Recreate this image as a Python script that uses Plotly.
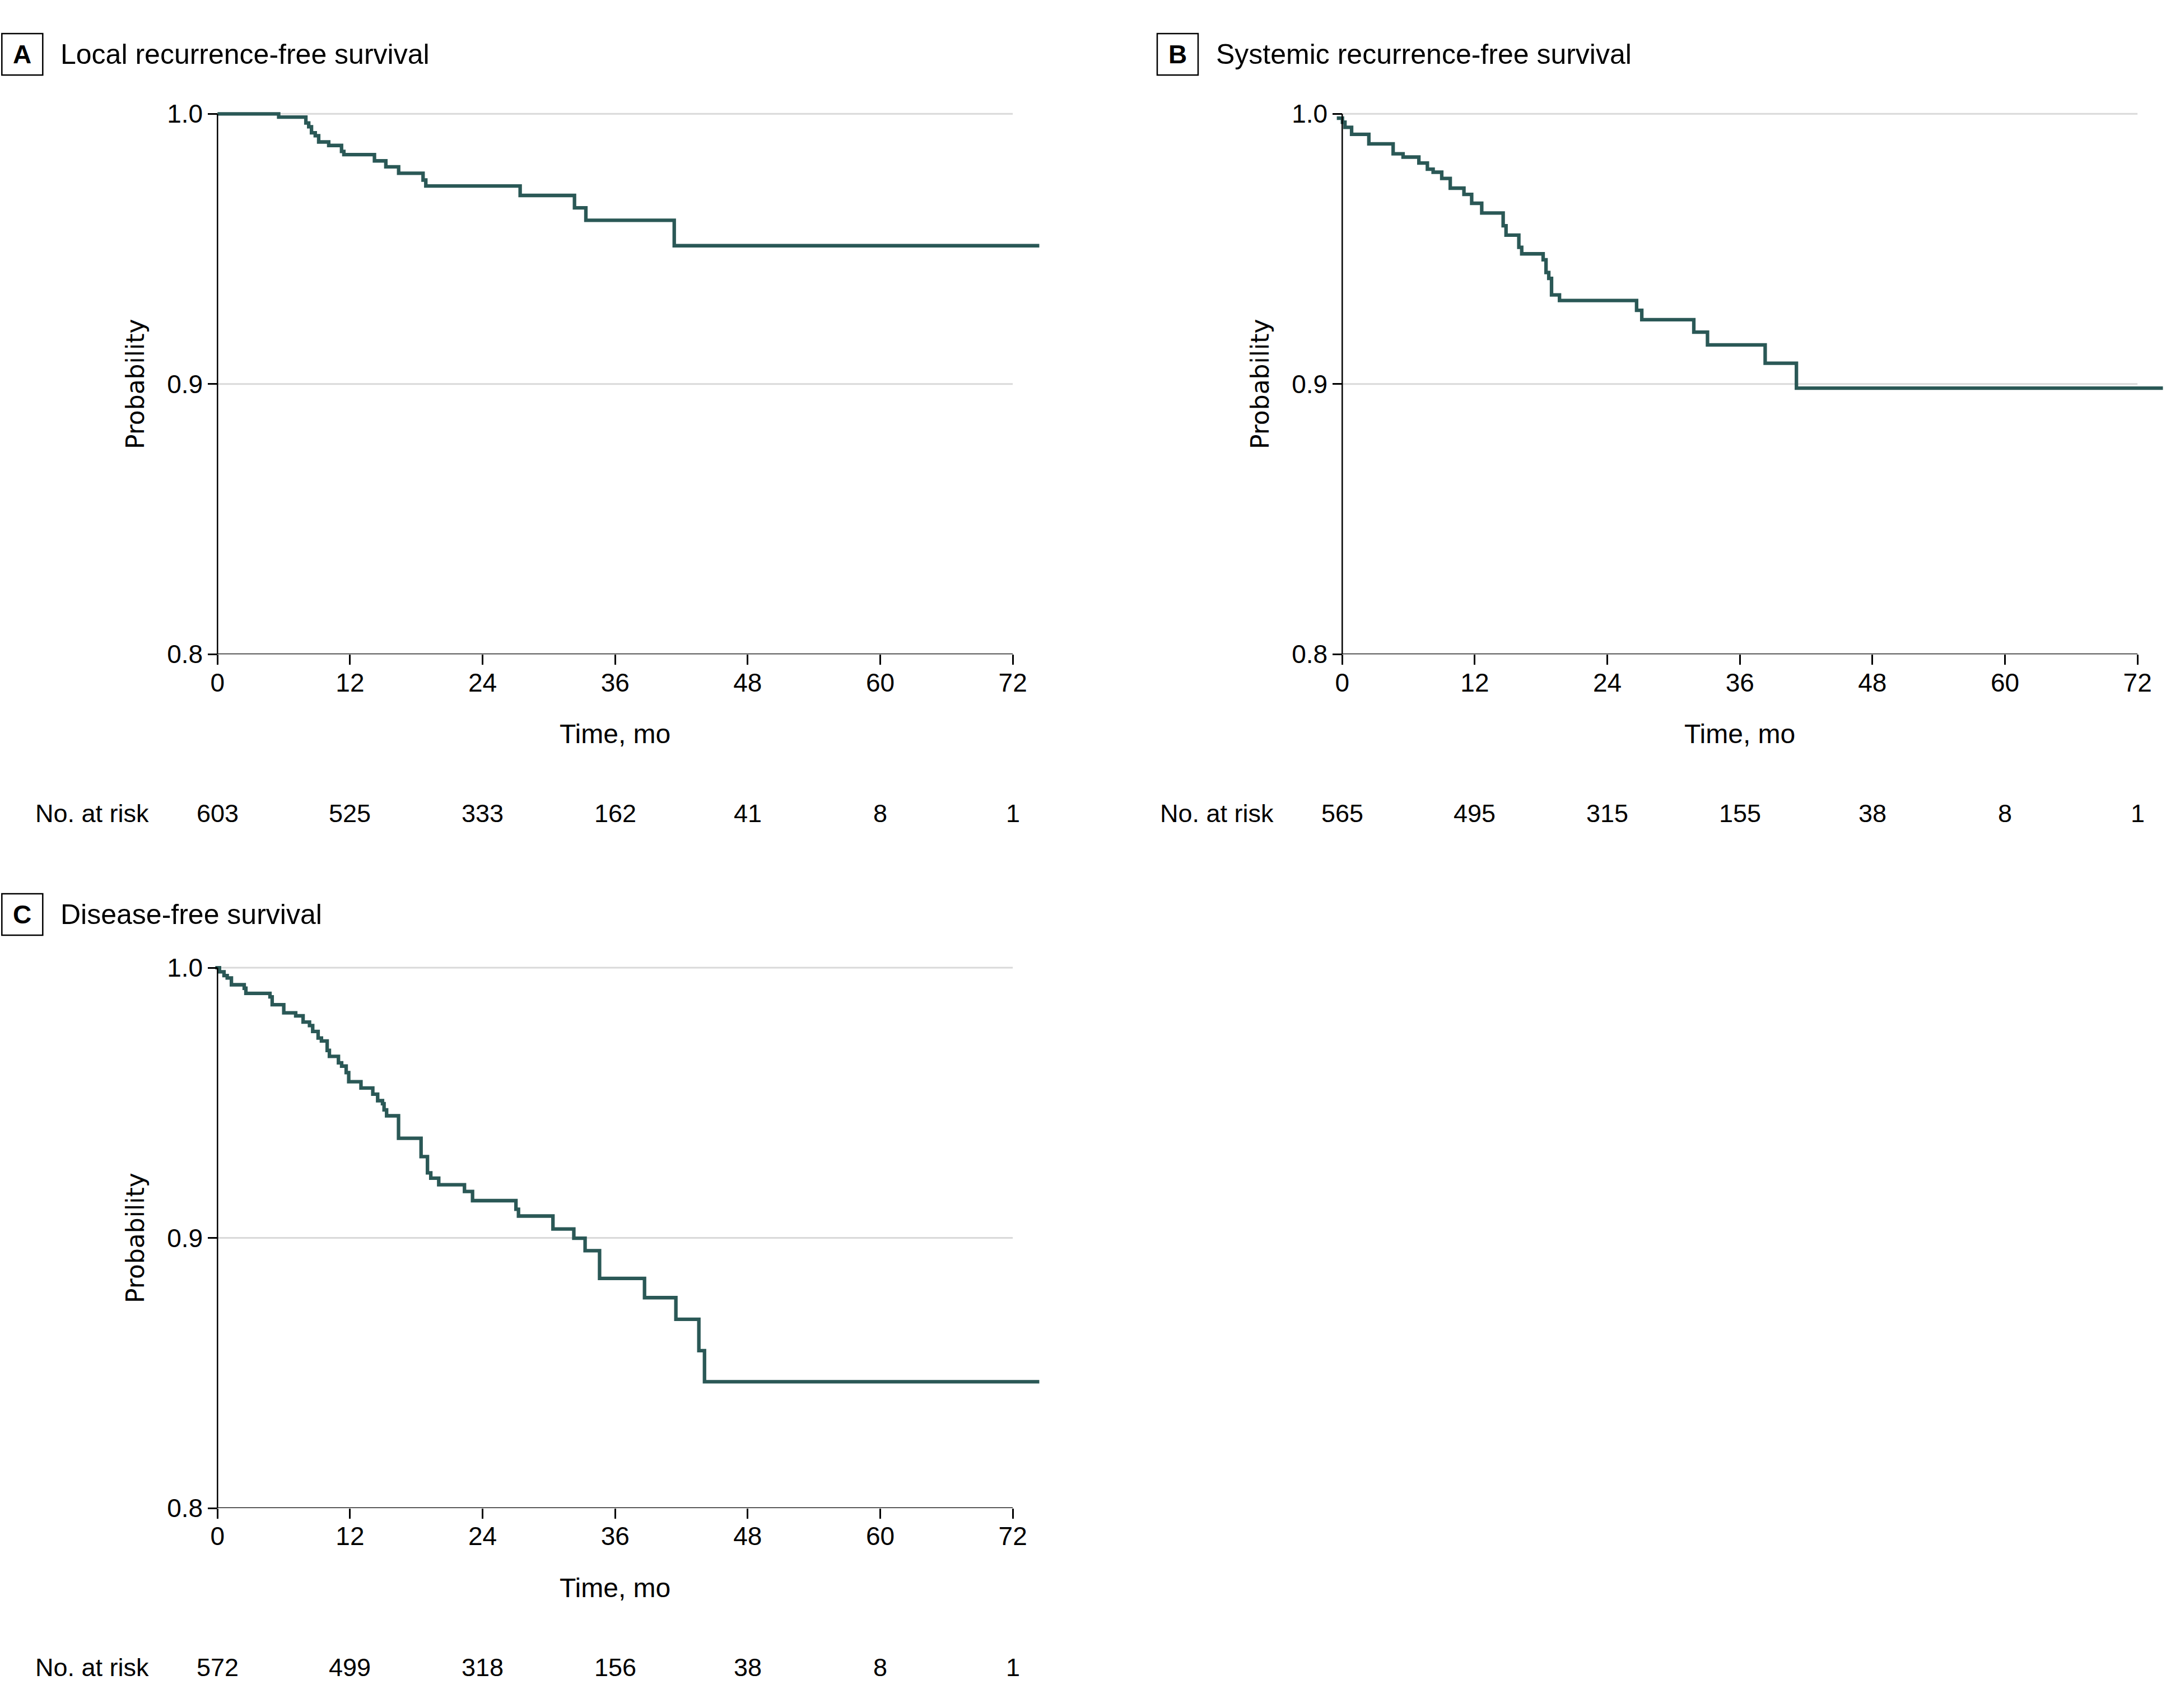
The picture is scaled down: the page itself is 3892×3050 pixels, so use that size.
import plotly.graph_objects as go

# survival curves (time in months, probability)
local_t = [0, 5.54, 8.0, 8.26, 8.51, 8.85, 9.16, 10.07, 11.23, 11.44, 14.21, 15.24,
           16.40, 18.61, 18.86, 27.40, 32.32, 33.35, 41.35, 74.4]
local_s = [1.0, 0.9988, 0.9966, 0.9952, 0.9930, 0.9919, 0.9896, 0.9883, 0.9861, 0.9849,
           0.9826, 0.9804, 0.9780, 0.9755, 0.9733, 0.9698, 0.9652, 0.9606, 0.9512, 0.9512]

systemic_t = [-0.49, 0.02, 0.25, 0.85, 2.41, 4.61, 5.51, 6.94, 7.71, 8.23, 9.01, 9.78,
              11.02, 11.72, 12.63, 14.57, 14.83, 15.99, 16.25, 18.19, 18.45, 18.70, 18.95,
              19.67, 26.65, 27.12, 31.83, 33.07, 38.29, 41.12, 74.3]
systemic_s = [0.9984, 0.9969, 0.9950, 0.9924, 0.9889, 0.9852, 0.9840, 0.9818, 0.9795, 0.9784,
              0.9761, 0.9725, 0.9702, 0.9669, 0.9633, 0.9586, 0.9551, 0.9506, 0.9482, 0.9460,
              0.9413, 0.9391, 0.9330, 0.9309, 0.9273, 0.9238, 0.9192, 0.9145, 0.9077, 0.8985,
              0.8985]

dfs_t = [-0.20, 0.18, 0.59, 0.88, 1.26, 2.42, 2.57, 4.75, 4.95, 6.00, 7.08, 7.75, 8.33,
         8.62, 9.11, 9.41, 9.93, 10.13, 10.95, 11.24, 11.65, 11.88, 12.99, 14.06, 14.50,
         14.94, 15.08, 15.31, 16.39, 18.43, 19.01, 19.31, 20.03, 22.36, 23.09, 27.02, 27.25,
         30.37, 32.26, 33.28, 34.59, 38.66, 41.50, 43.58, 44.09, 74.4]
dfs_s = [1.0, 0.9985, 0.9971, 0.9962, 0.9937, 0.9924, 0.9905, 0.9892, 0.9863, 0.9833,
         0.9822, 0.9799, 0.9786, 0.9764, 0.9740, 0.9729, 0.9694, 0.9672, 0.9648, 0.9636,
         0.9612, 0.9578, 0.9555, 0.9532, 0.9508, 0.9497, 0.9474, 0.9452, 0.9369, 0.9301,
         0.9241, 0.9221, 0.9197, 0.9172, 0.9138, 0.9106, 0.9081, 0.9033, 0.8999, 0.8953,
         0.8850, 0.8779, 0.8699, 0.8583, 0.8468, 0.8468]

risk_months = [0, 12, 24, 36, 48, 60, 72]
local_risk = [603, 525, 333, 162, 41, 8, 1]
systemic_risk = [565, 495, 315, 155, 38, 8, 1]
dfs_risk = [572, 499, 318, 156, 38, 8, 1]

y_ticks = [0.8, 0.9, 1.0]
y_labels = ['0.8', '0.9', '1.0']

W, H = 3892, 3050
LINE = '#2a5856'
FONT = 'Liberation Sans, Arial, sans-serif'
PX_MO = 19.72      # px per month
PX_P = 4825        # px per 1.0 of probability
XR = [-0.6, 74.6]
YR = [0.8, 1.0015]

# letter, title, t, s, risk, x px of t=0, y px of p=1.0, box left, title y
panels = [
    ('A', 'Local recurrence-free survival', local_t, local_s, local_risk, 388.3, 203.3, 3.3, 97),
    ('B', 'Systemic recurrence-free survival', systemic_t, systemic_s, systemic_risk, 2396.3, 203.3, 2066, 97),
    ('C', 'Disease-free survival', dfs_t, dfs_s, dfs_risk, 388.3, 1728.1, 3.3, 1633),
]

fig = go.Figure()
shapes, annotations, axes = [], [], {}


def px(x):
    return x / W


def py(y):
    return 1 - y / H


for i, (letter, title, t, s, risk, x0, y1, bx, ty) in enumerate(panels):
    n = '' if i == 0 else str(i + 1)
    xa, ya = 'x' + n, 'y' + n
    fig.add_trace(go.Scatter(x=t, y=s, mode='lines', line=dict(color=LINE, width=6.3, shape='hv'),
                             xaxis=xa, yaxis=ya, hoverinfo='skip'))

    dx0 = x0 + XR[0] * PX_MO
    dx1 = x0 + XR[1] * PX_MO
    ytop = y1 - (YR[1] - 1) * PX_P
    ybot = y1 + 0.2 * PX_P
    axes['xaxis' + n] = dict(domain=[px(dx0), px(dx1)], range=XR, anchor=ya, automargin=False,
                             tickvals=risk_months, ticks='outside', ticklen=18, tickwidth=2.5,
                             tickcolor='black', showgrid=False, zeroline=False, showline=False,
                             ticklabelstandoff=-8,
                             tickfont=dict(family=FONT, size=46, color='black'))
    axes['yaxis' + n] = dict(domain=[py(ybot), py(ytop)], range=YR, anchor='free', automargin=False,
                             position=px(x0), tickvals=y_ticks, ticktext=y_labels,
                             ticks='outside', ticklen=17, tickwidth=2.5, tickcolor='black',
                             showgrid=False, zeroline=False, showline=False,
                             tickfont=dict(family=FONT, size=46, color='black'))

    # grid and axis lines limited to 0-72 months
    for g in y_ticks[1:]:
        shapes.append(dict(type='line', xref=xa, yref=ya, x0=0, x1=risk_months[-1], y0=g, y1=g,
                           line=dict(color='#d9d9d9', width=3), layer='below'))
    shapes.append(dict(type='line', xref=xa, yref=ya, x0=0, x1=risk_months[-1], y0=0.8, y1=0.8,
                       line=dict(color='black', width=2.5)))
    shapes.append(dict(type='line', xref=xa, yref=ya, x0=0, x1=0, y0=0.8, y1=1.0,
                       line=dict(color='black', width=2.5)))

    # panel label box and title
    shapes.append(dict(type='rect', xref='paper', yref='paper', x0=px(bx), x1=px(bx + 73),
                       y0=py(ty + 37), y1=py(ty - 37), line=dict(color='black', width=2.5)))
    annotations.append(dict(x=px(bx + 36.5), y=py(ty), xref='paper', yref='paper', text='<b>%s</b>' % letter,
                            showarrow=False, xanchor='center', yanchor='middle',
                            font=dict(family=FONT, size=46, color='black')))
    annotations.append(dict(x=px(bx + 103), y=py(ty), xref='paper', yref='paper', text=title,
                            showarrow=False, xanchor='left', yanchor='middle',
                            font=dict(family=FONT, size=50, color='black')))

    annotations.append(dict(x=px(x0 - 147), y=py(y1 + 482.5), xref='paper', yref='paper',
                            text='Probability', textangle=-90, showarrow=False,
                            xanchor='center', yanchor='middle',
                            font=dict(family='DejaVu Sans', size=44, color='black')))
    annotations.append(dict(x=36, y=py(y1 + 1107), xref=xa, yref='paper', text='Time, mo',
                            showarrow=False, xanchor='center', yanchor='middle',
                            font=dict(family=FONT, size=48, color='black')))
    annotations.append(dict(x=px(x0 - 327), y=py(y1 + 1249), xref='paper', yref='paper',
                            text='No. at risk', showarrow=False, xanchor='left', yanchor='middle',
                            font=dict(family=FONT, size=45, color='black')))
    for m, r in zip(risk_months, risk):
        annotations.append(dict(x=m, y=py(y1 + 1249), xref=xa, yref='paper', text=str(r),
                                showarrow=False, xanchor='center', yanchor='middle',
                                font=dict(family=FONT, size=45, color='black')))

fig.update_layout(width=W, height=H, margin=dict(l=0, r=0, t=0, b=0, autoexpand=False),
                  paper_bgcolor='white', plot_bgcolor='white', showlegend=False,
                  shapes=shapes, annotations=annotations, **axes)

# pin the graph to the top-left corner so the page is exactly the figure size
pin = ("document.documentElement.style.margin='0';"
       "document.body.style.margin='0';document.body.style.padding='0';"
       "document.body.style.overflow='hidden';"
       "var g=document.getElementById('{plot_id}');"
       "g.style.position='absolute';g.style.left='0px';g.style.top='0px';")
fig.write_html("out.html", config={'displayModeBar': False}, post_script=pin)
